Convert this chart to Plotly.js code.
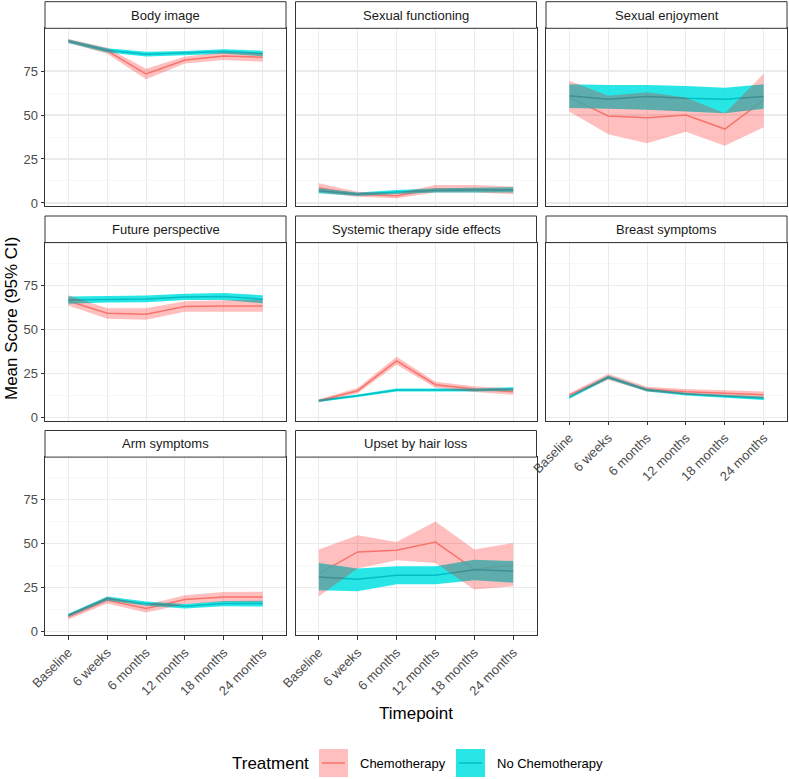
<!DOCTYPE html>
<html>
<head>
<meta charset="utf-8">
<script src="https://cdn.plot.ly/plotly-3.0.1.min.js"></script>
<style>
html,body{margin:0;padding:0;background:#fff;}
#chart{width:789px;height:779px;}
</style>
</head>
<body>
<div id="chart"></div>
<script>
// ---------------- DATA ----------------
const timepoints = ["Baseline", "6 weeks", "6 months", "12 months", "18 months", "24 months"];
const panelNames = ["Body image", "Sexual functioning", "Sexual enjoyment", "Future perspective",
  "Systemic therapy side effects", "Breast symptoms", "Arm symptoms", "Upset by hair loss"];
const yTickVals = [0, 25, 50, 75];
const yTickText = ["0", "25", "50", "75"];
const groupNames = ["Chemotherapy", "No Chemotherapy"];

// Body image
const bodyChemoMean = [92.2, 86.5, 73.3, 81.3, 83.5, 82.8];
const bodyChemoLo   = [91.0, 84.8, 70.3, 79.3, 81.3, 80.3];
const bodyChemoHi   = [93.4, 88.2, 76.3, 83.3, 85.7, 85.1];
const bodyNoMean    = [92.0, 86.8, 84.6, 85.2, 86.1, 85.0];
const bodyNoLo      = [91.0, 85.6, 83.3, 84.0, 84.8, 83.4];
const bodyNoHi      = [93.0, 88.0, 85.9, 86.4, 87.4, 86.6];

// Sexual functioning
const sexFunChemoMean = [8.5, 5.0, 4.1, 8.0, 8.0, 7.2];
const sexFunChemoLo   = [5.9, 3.6, 2.7, 5.9, 5.9, 5.0];
const sexFunChemoHi   = [11.2, 6.4, 5.5, 10.2, 10.2, 9.3];
const sexFunNoMean    = [7.0, 5.0, 6.3, 7.1, 7.3, 7.4];
const sexFunNoLo      = [5.5, 4.0, 5.1, 5.9, 6.1, 5.9];
const sexFunNoHi      = [8.4, 5.9, 7.4, 8.4, 8.7, 8.9];

// Sexual enjoyment
const sexEnjChemoMean = [60.0, 49.5, 48.5, 50.0, 42.0, 58.5];
const sexEnjChemoLo   = [52.0, 39.0, 34.0, 40.5, 32.5, 43.0];
const sexEnjChemoHi   = [69.5, 61.0, 63.0, 60.0, 51.0, 73.5];
const sexEnjNoMean    = [61.0, 59.0, 60.5, 59.5, 59.0, 60.5];
const sexEnjNoLo      = [54.0, 53.5, 53.0, 52.0, 51.0, 53.5];
const sexEnjNoHi      = [67.5, 67.0, 67.0, 66.5, 65.5, 67.5];

// Future perspective
const futureChemoMean = [66.1, 59.1, 58.6, 62.9, 63.3, 63.3];
const futureChemoLo   = [63.5, 56.0, 55.4, 60.0, 60.2, 60.0];
const futureChemoHi   = [69.3, 62.0, 62.0, 66.0, 66.5, 66.8];
const futureNoMean    = [66.7, 67.1, 67.3, 68.4, 68.6, 67.1];
const futureNoLo      = [64.6, 65.3, 65.4, 66.6, 66.7, 64.8];
const futureNoHi      = [68.6, 68.9, 69.2, 70.2, 70.7, 69.4];

// Systemic therapy side effects
const systemicChemoMean = [9.4, 15.1, 32.1, 18.5, 16.0, 14.5];
const systemicChemoLo   = [8.6, 13.6, 29.8, 16.8, 14.4, 12.8];
const systemicChemoHi   = [10.2, 16.6, 34.4, 20.2, 17.6, 16.2];
const systemicNoMean    = [9.4, 12.2, 15.5, 15.5, 15.5, 16.0];
const systemicNoLo      = [8.7, 11.5, 14.7, 14.7, 14.6, 14.9];
const systemicNoHi      = [10.1, 12.9, 16.3, 16.3, 16.4, 17.1];

// Breast symptoms
const breastChemoMean = [12.6, 23.0, 16.0, 14.5, 13.6, 12.8];
const breastChemoLo   = [11.6, 21.3, 14.6, 13.0, 11.9, 10.9];
const breastChemoHi   = [13.6, 24.7, 17.4, 16.0, 15.3, 14.7];
const breastNoMean    = [11.3, 22.7, 15.5, 13.2, 11.9, 10.8];
const breastNoLo      = [10.5, 21.7, 14.7, 12.4, 11.0, 9.8];
const breastNoHi      = [12.1, 23.7, 16.3, 14.0, 12.8, 11.8];

// Arm symptoms
const armChemoMean = [8.5, 17.9, 13.2, 18.3, 19.8, 19.8];
const armChemoLo   = [7.0, 16.0, 11.0, 15.8, 17.0, 16.9];
const armChemoHi   = [10.0, 19.8, 15.4, 20.8, 22.6, 22.7];
const armNoMean    = [9.4, 18.9, 16.0, 14.5, 16.0, 16.0];
const armNoLo      = [8.5, 17.8, 14.8, 13.2, 14.5, 14.3];
const armNoHi      = [10.3, 20.0, 17.2, 15.8, 17.5, 17.7];

// Upset by hair loss
const hairChemoMean = [33.0, 45.4, 46.3, 51.0, 35.5, 37.8];
const hairChemoLo   = [20.2, 35.9, 40.6, 39.1, 24.0, 25.9];
const hairChemoHi   = [46.7, 54.8, 51.0, 62.7, 46.7, 50.5];
const hairNoMean    = [31.2, 29.8, 32.1, 32.1, 35.3, 34.4];
const hairNoLo      = [23.6, 23.0, 27.0, 27.0, 29.3, 27.9];
const hairNoHi      = [39.1, 35.9, 37.2, 37.2, 41.0, 40.2];

const panelSeries = [
  [bodyChemoMean, bodyChemoLo, bodyChemoHi, bodyNoMean, bodyNoLo, bodyNoHi],
  [sexFunChemoMean, sexFunChemoLo, sexFunChemoHi, sexFunNoMean, sexFunNoLo, sexFunNoHi],
  [sexEnjChemoMean, sexEnjChemoLo, sexEnjChemoHi, sexEnjNoMean, sexEnjNoLo, sexEnjNoHi],
  [futureChemoMean, futureChemoLo, futureChemoHi, futureNoMean, futureNoLo, futureNoHi],
  [systemicChemoMean, systemicChemoLo, systemicChemoHi, systemicNoMean, systemicNoLo, systemicNoHi],
  [breastChemoMean, breastChemoLo, breastChemoHi, breastNoMean, breastNoLo, breastNoHi],
  [armChemoMean, armChemoLo, armChemoHi, armNoMean, armNoLo, armNoHi],
  [hairChemoMean, hairChemoLo, hairChemoHi, hairNoMean, hairNoLo, hairNoHi]
];

// ---------------- LAYOUT GEOMETRY (pixels) ----------------
const W = 789, H = 779;
const colL = [45, 295.5, 546];
const colW = 241;
const rowTop = [1.7, 216, 430.5];
const stripH = 26.6;
const plotH = 178;
const fx = p => p / W;
const fy = p => 1 - p / H;

const redLine = '#F69A8F';     // appears as #F8766D under the pink ribbon
const cyanLine = '#00BFC4';
const cyanFill = 'rgba(0,225,225,0.84)';
const pinkFill = 'rgba(255,0,0,0.25)';
const FONT = 'Liberation Sans, Arial, sans-serif';

const traces = [];
const layout = {
  width: W, height: H,
  margin: {l: 0, r: 0, t: 0, b: 0},
  paper_bgcolor: '#fff', plot_bgcolor: '#fff',
  showlegend: false,
  font: {family: FONT, size: 13, color: '#4D4D4D'},
  shapes: [], annotations: []
};

const catsRev = timepoints.slice().reverse();

panelNames.forEach((name, i) => {
  const r = Math.floor(i / 3), c = i % 3;
  const xa = 'x' + (i + 1), ya = 'y' + (i + 1);
  const s = panelSeries[i];
  const bottomRow = (i >= 5);
  const firstCol = (c === 0);
  const x0 = colL[c], x1 = colL[c] + colW;
  const sTop = rowTop[r], sBot = rowTop[r] + stripH, pBot = sBot + plotH;

  // red line (underneath ribbons)
  traces.push({x: timepoints, y: s[0], xaxis: xa, yaxis: ya, type: 'scatter', mode: 'lines',
    line: {color: redLine, width: 1.5}, hoverinfo: 'skip'});
  // cyan ribbon
  traces.push({x: timepoints.concat(catsRev), y: s[5].concat(s[4].slice().reverse()),
    xaxis: xa, yaxis: ya, type: 'scatter', mode: 'lines', fill: 'toself',
    fillcolor: cyanFill, line: {width: 0, color: 'rgba(0,0,0,0)'}, hoverinfo: 'skip'});
  // cyan line
  traces.push({x: timepoints, y: s[3], xaxis: xa, yaxis: ya, type: 'scatter', mode: 'lines',
    line: {color: cyanLine, width: 1.5}, hoverinfo: 'skip'});
  // pink ribbon
  traces.push({x: timepoints.concat(catsRev), y: s[2].concat(s[1].slice().reverse()),
    xaxis: xa, yaxis: ya, type: 'scatter', mode: 'lines', fill: 'toself',
    fillcolor: pinkFill, line: {width: 0, color: 'rgba(0,0,0,0)'}, hoverinfo: 'skip'});

  const kx = 'xaxis' + (i === 0 ? '' : (i + 1));
  const ky = 'yaxis' + (i === 0 ? '' : (i + 1));
  layout[kx] = {
    domain: [fx(x0), fx(x1)], anchor: ya, type: 'category',
    categoryorder: 'array', categoryarray: timepoints,
    range: [-0.6, 5.6], fixedrange: true,
    showgrid: true, gridcolor: '#EBEBEB', gridwidth: 1.1, zeroline: false,
    showline: true, mirror: true, linecolor: '#333333', linewidth: 1,
    ticks: bottomRow ? 'outside' : '', ticklen: 3.5, tickcolor: '#333333', tickwidth: 1,
    showticklabels: bottomRow, tickangle: -45,
    tickfont: {family: FONT, size: 13, color: '#4D4D4D'}
  };
  layout[ky] = {
    domain: [fy(pBot), fy(sBot)], anchor: xa,
    range: [-1.9, 99.3], fixedrange: true,
    tickmode: 'array', tickvals: yTickVals, ticktext: yTickText,
    showgrid: true, gridcolor: '#EBEBEB', gridwidth: 1.1, zeroline: false,
    minor: {tickmode: 'linear', tick0: 12.5, dtick: 25, showgrid: true, gridcolor: '#F3F3F3', gridwidth: 0.6, ticks: ''},
    showline: true, mirror: true, linecolor: '#333333', linewidth: 1,
    ticks: firstCol ? 'outside' : '', ticklen: 3.5, tickcolor: '#333333', tickwidth: 1,
    showticklabels: firstCol,
    tickfont: {family: FONT, size: 13, color: '#4D4D4D'}
  };

  // strip
  layout.shapes.push({type: 'rect', xref: 'paper', yref: 'paper',
    x0: fx(x0), x1: fx(x1), y0: fy(sBot), y1: fy(sTop),
    fillcolor: '#FFFFFF', line: {color: '#333333', width: 1}, layer: 'above'});
  layout.annotations.push({xref: 'paper', yref: 'paper', x: fx((x0 + x1) / 2), y: fy((sTop + sBot) / 2),
    text: name, showarrow: false, xanchor: 'center', yanchor: 'middle',
    font: {family: FONT, size: 13, color: '#1A1A1A'}});
});

// axis titles
layout.annotations.push({xref: 'paper', yref: 'paper', x: fx(416), y: fy(713), text: 'Timepoint',
  showarrow: false, xanchor: 'center', yanchor: 'middle', font: {family: FONT, size: 17, color: '#000'}});
layout.annotations.push({xref: 'paper', yref: 'paper', x: fx(11), y: fy(319), text: 'Mean Score (95% CI)',
  textangle: -90, showarrow: false, xanchor: 'center', yanchor: 'middle', font: {family: FONT, size: 17, color: '#000'}});

// legend (manual, ggplot style)
const legY = 763;
layout.annotations.push({xref: 'paper', yref: 'paper', x: fx(230), y: fy(legY), text: 'Treatment',
  showarrow: false, xanchor: 'left', yanchor: 'middle', font: {family: FONT, size: 17, color: '#000'}});
const keyX = [319, 456];
const keyFill = ['rgb(255,191,191)', 'rgb(41,230,230)'];
const keyLine = ['#F8766D', '#00BFC4'];
const labX = [358, 495];
groupNames.forEach((g, k) => {
  layout.shapes.push({type: 'rect', xref: 'paper', yref: 'paper',
    x0: fx(keyX[k]), x1: fx(keyX[k] + 29), y0: fy(777), y1: fy(749),
    fillcolor: keyFill[k], line: {width: 0}});
  layout.shapes.push({type: 'line', xref: 'paper', yref: 'paper',
    x0: fx(keyX[k] + 3), x1: fx(keyX[k] + 26), y0: fy(legY), y1: fy(legY),
    line: {color: keyLine[k], width: 1.5}});
  layout.annotations.push({xref: 'paper', yref: 'paper', x: fx(labX[k]), y: fy(legY), text: g,
    showarrow: false, xanchor: 'left', yanchor: 'middle', font: {family: FONT, size: 13, color: '#000'}});
});

Plotly.newPlot('chart', traces, layout, {displayModeBar: false, staticPlot: true});
</script>
</body>
</html>
